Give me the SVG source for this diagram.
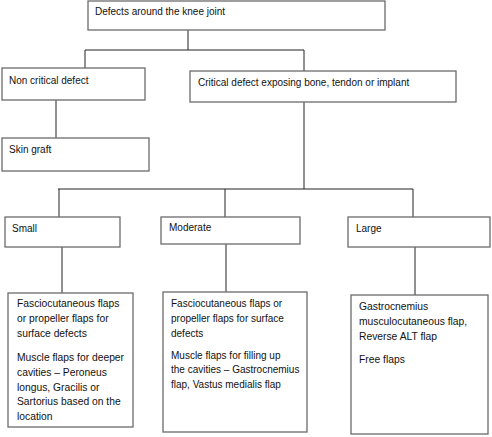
<svg xmlns="http://www.w3.org/2000/svg" width="492" height="437" viewBox="0 0 492 437">
<style>
.box{fill:#fff;stroke:#6b6b6b;stroke-width:1.3}
.ln{fill:none;stroke:#222;stroke-width:1}
.t{font-family:"Liberation Sans",Arial,sans-serif;font-size:10px;fill:#111}
.b{font-family:"Liberation Sans",Arial,sans-serif;font-size:10.3px;fill:#111}
.m{font-family:"Liberation Sans",Arial,sans-serif;font-size:10px;fill:#111}
</style>
<rect width="492" height="437" fill="#fff"/>
<g id="connectors">
<path class="ln" d="M188 30V50M85 50H304M85 50V68M304 50V71"/>
<path class="ln" d="M56 100V138"/>
<path class="ln" d="M304 102V189M58 189H413M59 189V217M225 189V217M413 189V217"/>
<path class="ln" d="M62 247V293M226 244V292M415 247V295"/>
</g>
<g id="n-root"><rect class="box" x="88" y="1" width="297" height="29"/><text class="t" x="95" y="15">Defects around the knee joint</text></g>
<g id="n-noncritical"><rect class="box" x="2" y="68" width="143" height="32"/><text class="t" x="9" y="84">Non critical defect</text></g>
<g id="n-critical"><rect class="box" x="190" y="71" width="266" height="31"/><text class="t" x="198" y="86">Critical defect exposing bone, tendon or implant</text></g>
<g id="n-skingraft"><rect class="box" x="2" y="138" width="147" height="33"/><text class="t" x="9" y="153">Skin graft</text></g>
<g id="n-small"><rect class="box" x="5" y="217" width="115" height="30"/><text class="t" x="12" y="232">Small</text></g>
<g id="n-moderate"><rect class="box" x="161" y="217" width="139" height="27"/><text class="t" x="169" y="231">Moderate</text></g>
<g id="n-large"><rect class="box" x="348" y="217" width="142" height="30"/><text class="t" x="356" y="232">Large</text></g>
<g id="n-small-detail"><rect class="box" x="8" y="293" width="125" height="134"/>
<text class="b" x="17"><tspan x="17" y="307">Fasciocutaneous flaps</tspan><tspan x="17" y="322">or propeller flaps for</tspan><tspan x="17" y="337">surface defects</tspan><tspan x="17" y="361">Muscle flaps for deeper</tspan><tspan x="17" y="376">cavities – Peroneus</tspan><tspan x="17" y="391">longus, Gracilis or</tspan><tspan x="17" y="405">Sartorius based on the</tspan><tspan x="17" y="420">location</tspan></text></g>
<g id="n-moderate-detail"><rect class="box" x="163" y="292" width="144" height="140"/>
<text class="m" x="171"><tspan x="171" y="307">Fasciocutaneous flaps or</tspan><tspan x="171" y="322">propeller flaps for surface</tspan><tspan x="171" y="337">defects</tspan><tspan x="171" y="359">Muscle flaps for filling up</tspan><tspan x="171" y="373">the cavities – Gastrocnemius</tspan><tspan x="171" y="388">flap, Vastus medialis flap</tspan></text></g>
<g id="n-large-detail"><rect class="box" x="351" y="295" width="137" height="139"/>
<text class="b" x="359"><tspan x="359" y="310">Gastrocnemius</tspan><tspan x="359" y="325">musculocutaneous flap,</tspan><tspan x="359" y="340">Reverse ALT flap</tspan><tspan x="359" y="363">Free flaps</tspan></text></g>
</svg>
